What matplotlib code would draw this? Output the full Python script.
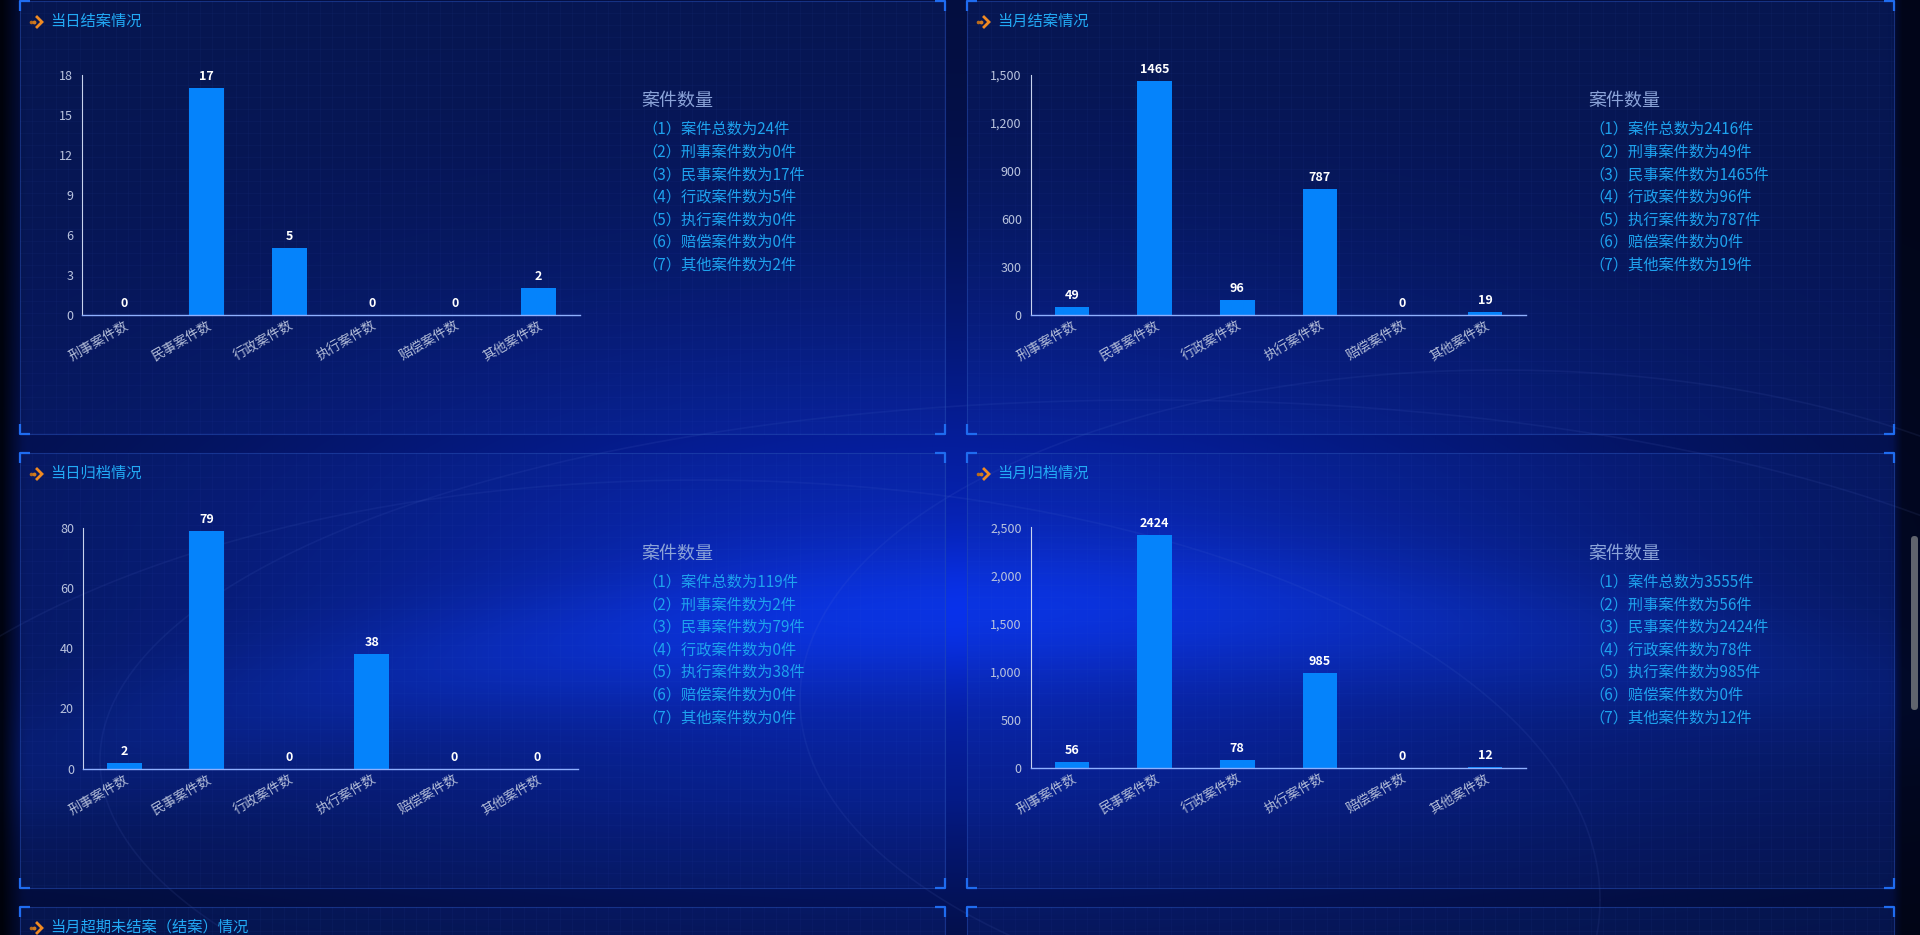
import numpy as np
import matplotlib
matplotlib.use('Agg')
import matplotlib.pyplot as plt
from matplotlib.patches import Rectangle, FancyBboxPatch
from matplotlib.ticker import FuncFormatter, MultipleLocator

plt.rcParams['font.family'] = ['Noto Sans CJK SC', 'DejaVu Sans']

# ---------------- data ----------------
categories = ['刑事案件数', '民事案件数', '行政案件数', '执行案件数', '赔偿案件数', '其他案件数']
day_closed = [0, 17, 5, 0, 0, 2]
month_closed = [49, 1465, 96, 787, 0, 19]
day_archived = [2, 79, 0, 38, 0, 0]
month_archived = [56, 2424, 78, 985, 0, 12]
day_closed_total = 24
month_closed_total = 2416
day_archived_total = 119
month_archived_total = 3555
panel_titles = ['当日结案情况', '当月结案情况', '当日归档情况', '当月归档情况', '当月超期未结案（结案）情况']
y_max = [18, 1500, 80, 2500]
y_step = [3, 300, 20, 500]
legend_title = '案件数量'

W, H = 1920, 935
fig = plt.figure(figsize=(W / 100, H / 100), dpi=100)

# ---------------- background ----------------
bg = fig.add_axes([0, 0, 1, 1])
bg.set_xlim(0, W)
bg.set_ylim(H, 0)
bg.axis('off')
h, w = 187, 384
yy, xx = np.mgrid[0:h, 0:w]
X = xx * W / (w - 1)
Y = yy * H / (h - 1)
img = np.zeros((h, w, 3))
img[:] = np.array([3, 14, 62]) / 255
g1 = np.exp(-(((X - 940) / 750) ** 2 + ((Y - 590) / 300) ** 2))
img += g1[..., None] * np.array([3, 20, 118]) / 255
arc_y = 612 + 1.3e-4 * (X - 1100) ** 2
band = np.exp(-((Y - arc_y) / 70) ** 2) * np.exp(-((X - 950) / 950) ** 2)
img += band[..., None] * np.array([3, 16, 55]) / 255
bottom_dark = np.clip((Y - 800) / 200, 0, 1)
img = img * (1 - 0.25 * bottom_dark[..., None])
left_dark = np.clip(1 - X / 22, 0, 1)
img = img * (1 - 0.8 * left_dark[..., None])
right_dark = np.clip((X - 1894) / 10, 0, 1)
img = img * (1 - 0.6 * right_dark[..., None])
img = np.clip(img, 0, 1)
bg.imshow(img, extent=[0, W, H, 0], aspect='auto', interpolation='bilinear', zorder=0)

# faint globe arcs
t = np.linspace(0, 2 * np.pi, 400)
for (cx, cy, rx, ry) in [(1150, 760, 1050, 360), (700, 900, 900, 420), (1500, 700, 700, 330)]:
    bg.plot(cx + rx * np.cos(t), cy + ry * np.sin(t), color=(0.45, 0.55, 0.9, 0.09), lw=1.2, zorder=0.5)

# panels
panels = [(20, 1, 945, 434), (967, 1, 1894, 434), (20, 453, 945, 888), (967, 453, 1894, 888),
          (20, 907, 945, 1000), (967, 907, 1894, 1000)]
bracket_col = '#1f6cf0'
for (x0, y0, x1, y1) in panels:
    bg.add_patch(Rectangle((x0, y0), x1 - x0, y1 - y0, facecolor=(0.1, 0.25, 0.7, 0.16),
                           edgecolor=(0.15, 0.3, 0.7, 0.55), lw=0.8, zorder=1))
    for gx in np.arange(x0 + 12, x1, 12):
        bg.plot([gx, gx], [y0, min(y1, H)], color=(0.3, 0.45, 0.9, 0.05), lw=0.6, zorder=1)
    for gy in np.arange(y0 + 12, min(y1, H), 12):
        bg.plot([x0, x1], [gy, gy], color=(0.3, 0.45, 0.9, 0.05), lw=0.6, zorder=1)
    L = 10
    kw = dict(color=bracket_col, lw=1.6, zorder=2, solid_capstyle='butt')
    bg.plot([x0, x0, x0 + L], [y0 + L, y0, y0], **kw)
    bg.plot([x1 - L, x1, x1], [y0, y0, y0 + L], **kw)
    if y1 < H:
        bg.plot([x0, x0, x0 + L], [y1 - L, y1, y1], **kw)
        bg.plot([x1 - L, x1, x1], [y1, y1, y1 - L], **kw)

# titles with arrow icon
title_pos = [(20, 1), (967, 1), (20, 453), (967, 453), (20, 907)]
for (px, py), tt in zip(title_pos, panel_titles):
    cy = py + 20
    bg.plot([px + 10.5], [cy + 1], 'o', ms=1.6, color='#b86a1c', zorder=3)
    bg.plot([px + 13.5], [cy + 1], 'o', ms=1.8, color='#d07a20', zorder=3)
    bg.plot([px + 17, px + 22, px + 17], [cy - 4, cy + 1, cy + 6], color='#f08a22', lw=2.0, zorder=3,
            solid_joinstyle='miter')
    bg.text(px + 30, cy, tt, color='#22aaf5', fontsize=11, va='center', ha='left', zorder=3)

# scrollbar
bg.add_patch(FancyBboxPatch((1911, 536), 7, 174, boxstyle='round,pad=0,rounding_size=3.5',
                            facecolor='#60646e', edgecolor='none', zorder=3))

# ---------------- charts ----------------
datasets = [day_closed, month_closed, day_archived, month_archived]
totals = [day_closed_total, month_closed_total, day_archived_total, month_archived_total]
axes_px = [(82.3, 580, 75, 315), (1030.8, 1526.4, 75, 315),
           (83, 578, 528, 768.6), (1030.8, 1526.4, 527.3, 767.7)]
legend_px = [(641, 101), (1588, 101), (641, 553.6), (1588, 553.6)]

fmt = FuncFormatter(lambda v, p: f'{int(v):,}')
for vals, (l, r, t, b), ymax, ystep, total, (lx, ly) in zip(datasets, axes_px, y_max, y_step, totals, legend_px):
    ax = fig.add_axes([l / W, 1 - b / H, (r - l) / W, (b - t) / H])
    ax.set_facecolor('none')
    xs = np.arange(len(categories))
    ax.bar(xs, vals, width=0.42, color='#0583fb', zorder=2)
    ax.set_xlim(-0.5, len(categories) - 0.5)
    ax.set_ylim(0, ymax)
    ax.yaxis.set_major_locator(MultipleLocator(ystep))
    ax.yaxis.set_major_formatter(fmt)
    ax.set_xticks(xs)
    ax.set_xticklabels(categories, rotation=30, ha='right', va='top', rotation_mode='anchor')
    for s in ['top', 'right']:
        ax.spines[s].set_visible(False)
    ax.spines['left'].set_color('#c9d3ee')
    ax.spines['left'].set_linewidth(0.8)
    ax.spines['bottom'].set_color('#8fb0ff')
    ax.spines['bottom'].set_linewidth(1.0)
    ax.tick_params(axis='y', length=0, pad=6.5, labelsize=9, labelcolor='#b9c3de')
    ax.tick_params(axis='x', length=0, pad=3, labelsize=9.5, labelcolor='#b3bdd8')
    for xi, v in zip(xs, vals):
        ax.annotate(str(v), (xi, v), xytext=(0, 3.6), textcoords='offset points',
                    ha='center', va='bottom', color='white', fontsize=9, fontweight='bold')
    bg.text(lx, ly, legend_title, color='#8ba3d8', fontsize=13, va='center', ha='left', zorder=3)
    items = [f'（1）案件总数为{total}件'] + [f'（{i + 2}）{c}为{v}件' for i, (c, v) in enumerate(zip(categories, vals))]
    for i, it in enumerate(items):
        bg.text(lx + 1, ly + 28.5 + 22.6 * i, it, color='#1ea2ee', fontsize=11, va='center', ha='left', zorder=3)

fig.savefig('out.png', dpi=100, facecolor='#020c3a')
